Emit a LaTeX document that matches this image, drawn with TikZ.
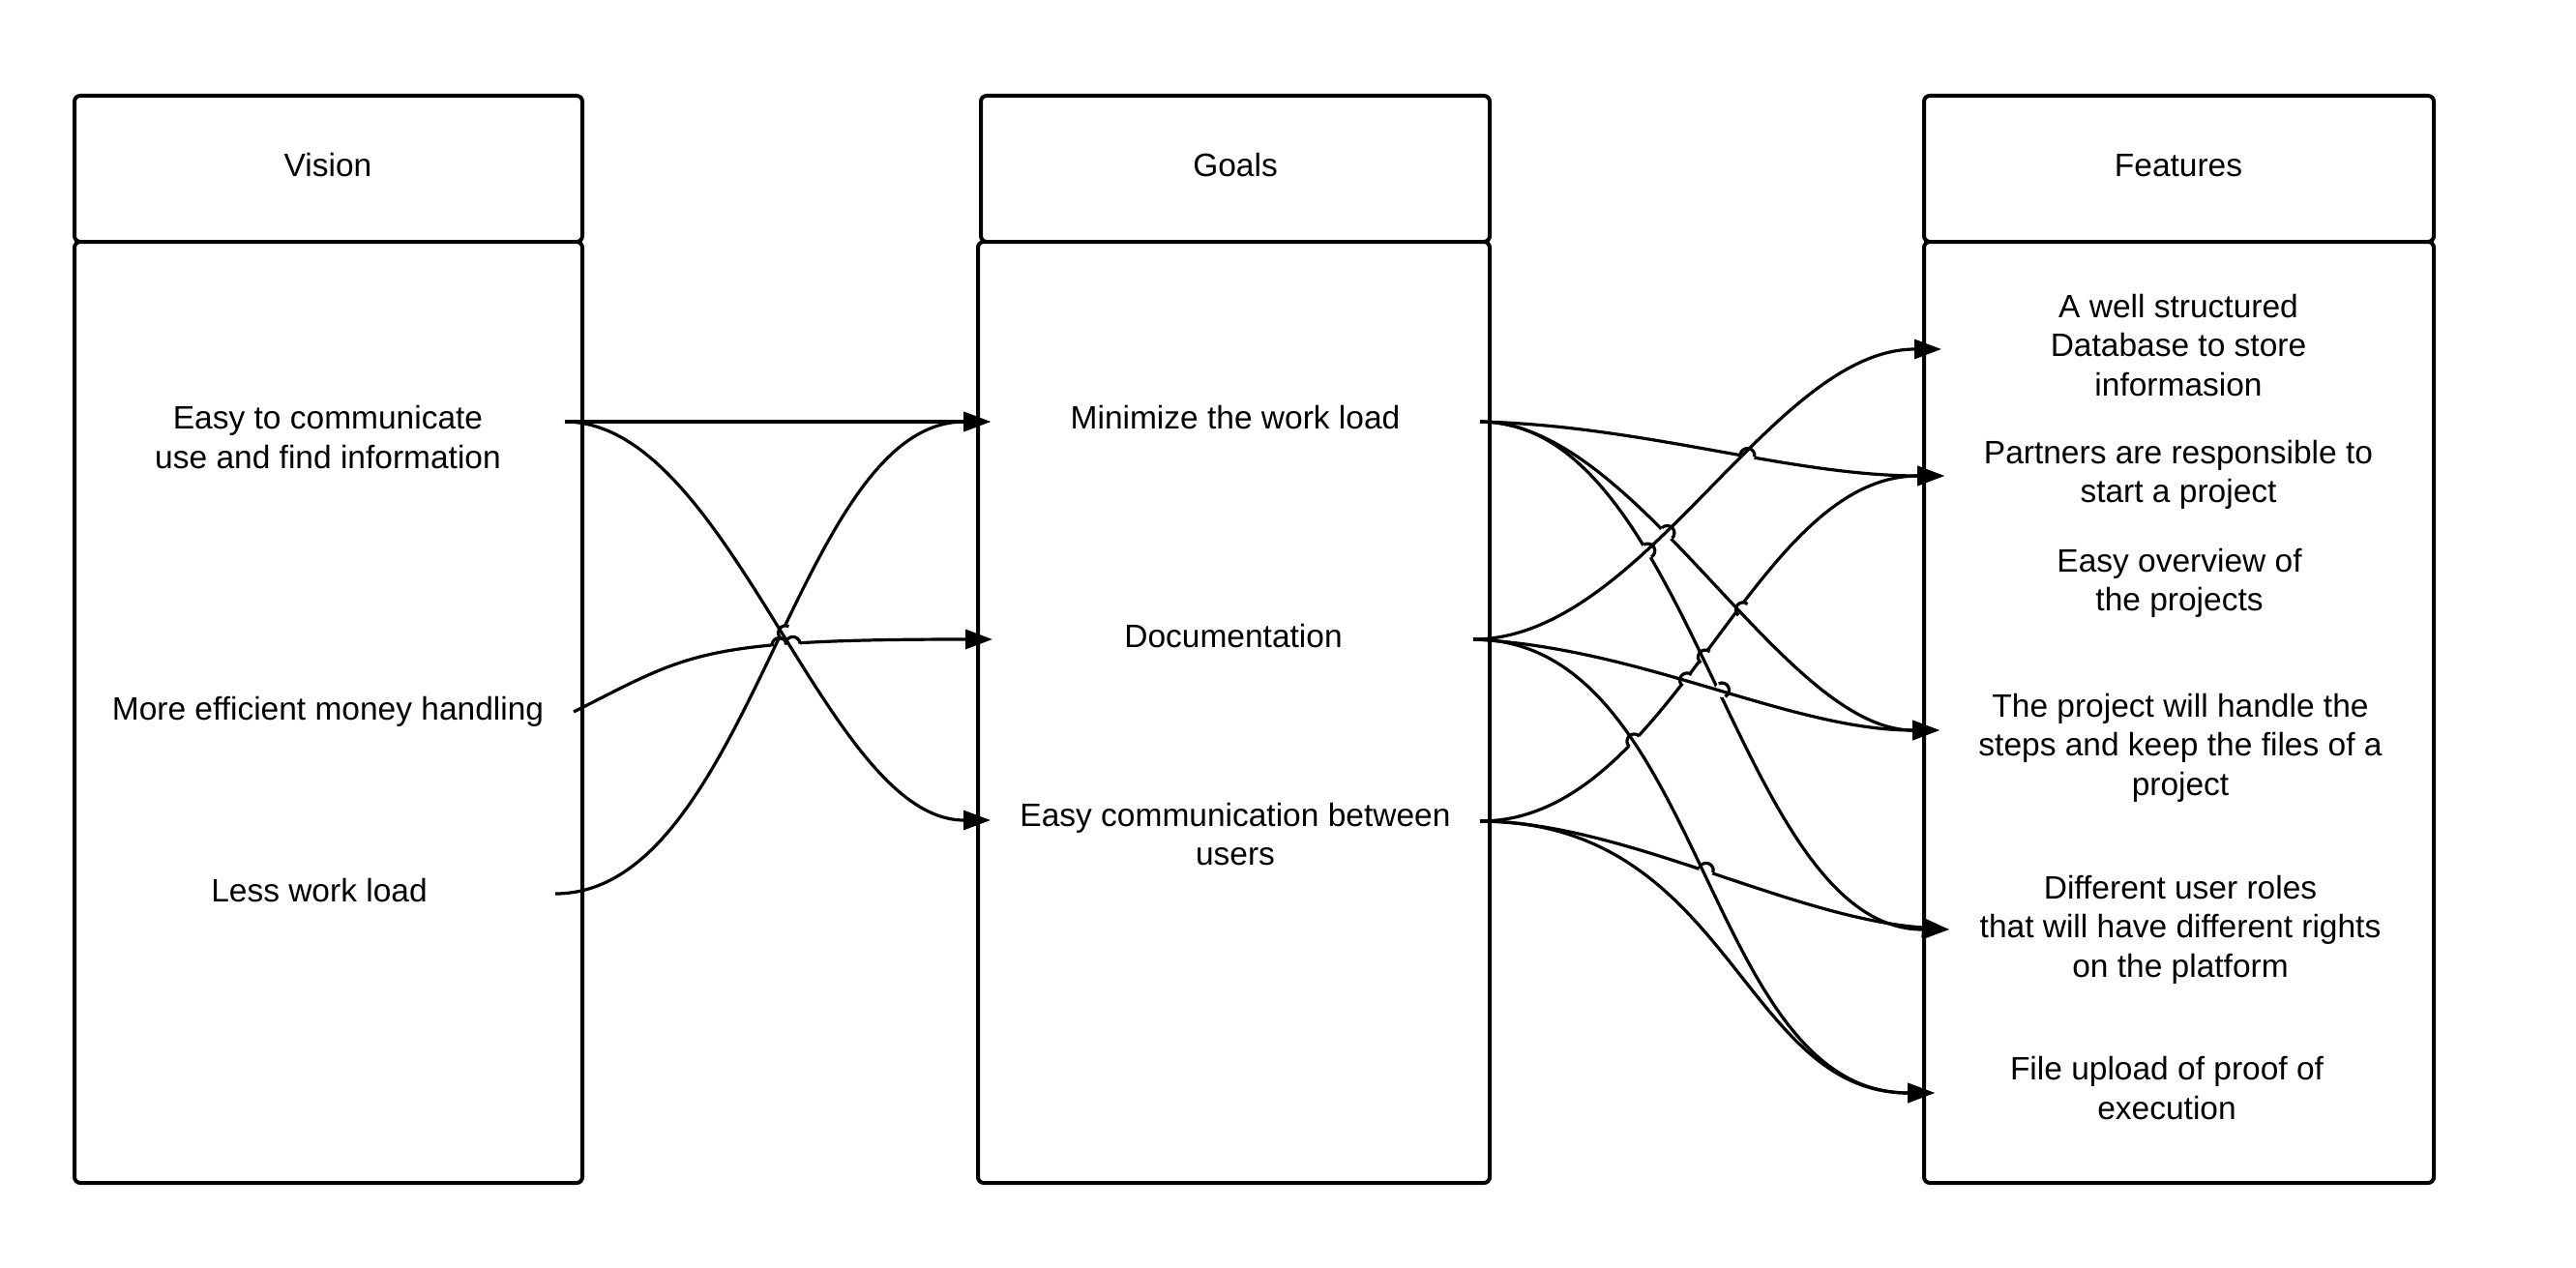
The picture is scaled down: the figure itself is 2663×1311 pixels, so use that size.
\documentclass[tikz,border=0pt]{standalone}
\usepackage{fontspec}
\setmainfont{Liberation Sans}
\usetikzlibrary{arrows.meta,intersections,calc}
\newcommand{\hopfind}[3]{%
  \path[name intersections={of=#1 and #2, by=#3}];
  \path[name path=#3c] (#3) circle[radius=7.5pt];
  \path[name intersections={of=#1 and #3c, sort by=#1, by={#3a,#3b}}];}
\newcommand{\hopclip}[1]{\clip (0,0) rectangle (2663,1311) (#1) circle[radius=7.5pt];}
\newcommand{\hoparc}[1]{\draw[hop] let \p1=(#1a), \p2=(#1), \n1={atan2(\y1-\y2,\x1-\x2)} in
  (#1a) arc[start angle=\n1, delta angle=-180, radius=7.5pt];}
\begin{document}
\begin{tikzpicture}[x=1pt,y=-1pt,
  box/.style={draw, line width=4pt, rounded corners=6pt, inner sep=0pt, fill=white},
  lbl/.style={font=\fontsize{33.5}{40.5}\selectfont, align=center, inner sep=0pt},
  conn/.style={line width=3.2pt, -{Triangle[length=28pt,width=20pt]}},
  hop/.style={line width=3.2pt},
  pLa/.style={insert path={(v1o) -- (g1i)}},
  pLb/.style={insert path={(v1o) .. controls +(171,0) and +(-171,0) .. (g3i)}},
  pLc/.style={insert path={(v2o) .. controls +(120,-60) and +(-306,0) .. (g2i)}},
  pLd/.style={insert path={(v3o) .. controls +(202,0) and +(-202,0) .. (g1i)}},
  pMa/.style={insert path={(g1o) .. controls +(170,4) and +(-160,0) .. (f2i)}},
  pMb/.style={insert path={(g1o) .. controls +(163,0) and +(-163,0) .. (f4i)}},
  pMc/.style={insert path={(g1o) .. controls +(221,0) and +(-221,0) .. (f5i)}},
  pDa/.style={insert path={(g2o) .. controls +(176,0) and +(-176,0) .. (f1i)}},
  pDb/.style={insert path={(g2o) .. controls +(177,9) and +(-155,0) .. (f4i)}},
  pDc/.style={insert path={(g2o) .. controls +(240,0) and +(-240,0) .. (f6i)}},
  pEa/.style={insert path={(g3o) .. controls +(200,0) and +(-200,0) .. (f2i)}},
  pEb/.style={insert path={(g3o) .. controls +(150,1) and +(-165,-12) .. (f5i)}},
  pEc/.style={insert path={(g3o) .. controls +(260,0) and +(-200,0) .. (f6i)}}]
\useasboundingbox[fill=white] (0,0) rectangle (2663,1311);

% column boxes
\node[box, minimum width=525pt, minimum height=151pt] (vh) at (339.5,174.5) {};
\node[box, minimum width=525pt, minimum height=973pt] (vb) at (339.5,736.5) {};
\node[box, minimum width=526pt, minimum height=151pt] (gh) at (1277,174.5) {};
\node[box, minimum width=529pt, minimum height=973pt] (gb) at (1275.5,736.5) {};
\node[box, minimum width=527pt, minimum height=151pt] (fh) at (2252.5,174.5) {};
\node[box, minimum width=527pt, minimum height=973pt] (fb) at (2252.5,736.5) {};

% titles
\node[lbl, anchor=base] (vt) at (339,182) {Vision};
\node[lbl, anchor=base] (gt) at (1277,182) {Goals};
\node[lbl, anchor=base] (ft) at (2252,182) {Features};

% texts
\node[lbl] (v1) at (339,452) {Easy to communicate\\use and find information};
\node[lbl, anchor=base] (v2) at (339,744) {More efficient money handling};
\node[lbl, anchor=base] (v3) at (330,932) {Less work load};
\node[lbl, anchor=base] (g1) at (1277,443) {Minimize the work load};
\node[lbl, anchor=base] (g2) at (1275,669) {Documentation};
\node[lbl] (g3) at (1277,862.5) {Easy communication between\\users};
\node[lbl] (f1) at (2252,357) {A well structured\\Database to store\\informasion};
\node[lbl] (f2) at (2252,491) {Partners are responsible to\\start a project};
\node[lbl] (f3) at (2253,603) {Easy overview of\\the projects};
\node[lbl] (f4) at (2254,773) {The project will handle the\\steps and keep the files of a\\project};
\node[lbl] (f5) at (2254,961) {Different user roles\\that will have different rights\\on the platform};
\node[lbl] (f6) at (2240,1125) {File upload of proof of\\execution};

% ports
\coordinate (v1o) at (584,436);
\coordinate (v2o) at (593,736);
\coordinate (v3o) at (574,924);
\coordinate (g1i) at (1024,436);
\coordinate (g2i) at (1026,661);
\coordinate (g3i) at (1024,848);
\coordinate (g1o) at (1530,436);
\coordinate (g2o) at (1523,661);
\coordinate (g3o) at (1530,849);
\coordinate (f1i) at (2007,361);
\coordinate (f2i) at (2010,492);
\coordinate (f4i) at (2005,755);
\coordinate (f5i) at (2015,961);
\coordinate (f6i) at (2000,1130);

% connector geometry (for crossings)
\path[name path=La, pLa]; \path[name path=Lb, pLb];
\path[name path=Lc, pLc]; \path[name path=Ld, pLd];
\path[name path=Ma, pMa]; \path[name path=Mb, pMb]; \path[name path=Mc, pMc];
\path[name path=Da, pDa]; \path[name path=Db, pDb]; \path[name path=Dc, pDc];
\path[name path=Ea, pEa]; \path[name path=Eb, pEb]; \path[name path=Ec, pEc];

\hopfind{Lc}{Ld}{hLa}
\hopfind{Lc}{Lb}{hLb}
\hopfind{Ld}{Lb}{hLc}
\hopfind{Ma}{Da}{hA}
\hopfind{Mb}{Da}{hB}
\hopfind{Mc}{Da}{hC}
\hopfind{Mc}{Db}{hD}
\hopfind{Ea}{Mb}{hE}
\hopfind{Ea}{Mc}{hF}
\hopfind{Ea}{Db}{hG}
\hopfind{Ea}{Dc}{hH}
\hopfind{Eb}{Dc}{hI}

% vision -> goals
\draw[conn, pLa];
\draw[conn, pLb];
\begin{scope}[even odd rule]\hopclip{hLc}\draw[conn, pLd];\end{scope}
\begin{scope}[even odd rule]\hopclip{hLa}\begin{scope}[even odd rule]\hopclip{hLb}\draw[conn, pLc];\end{scope}\end{scope}

% goals -> features
\draw[conn, pDa];
\draw[conn, pDb];
\draw[conn, pDc];
\begin{scope}[even odd rule]\hopclip{hA}\draw[conn, pMa];\end{scope}
\begin{scope}[even odd rule]\hopclip{hB}\draw[conn, pMb];\end{scope}
\begin{scope}[even odd rule]\hopclip{hC}\begin{scope}[even odd rule]\hopclip{hD}\draw[conn, pMc];\end{scope}\end{scope}
\begin{scope}[even odd rule]\hopclip{hE}\begin{scope}[even odd rule]\hopclip{hF}%
\begin{scope}[even odd rule]\hopclip{hG}\begin{scope}[even odd rule]\hopclip{hH}%
  \draw[conn, pEa];\end{scope}\end{scope}\end{scope}\end{scope}
\begin{scope}[even odd rule]\hopclip{hI}\draw[conn, pEb];\end{scope}
\draw[conn, pEc];

% line jumps
\hoparc{hLa}\hoparc{hLb}\hoparc{hLc}
\hoparc{hA}\hoparc{hB}\hoparc{hC}\hoparc{hD}
\hoparc{hE}\hoparc{hF}\hoparc{hG}\hoparc{hH}\hoparc{hI}
\end{tikzpicture}
\end{document}
